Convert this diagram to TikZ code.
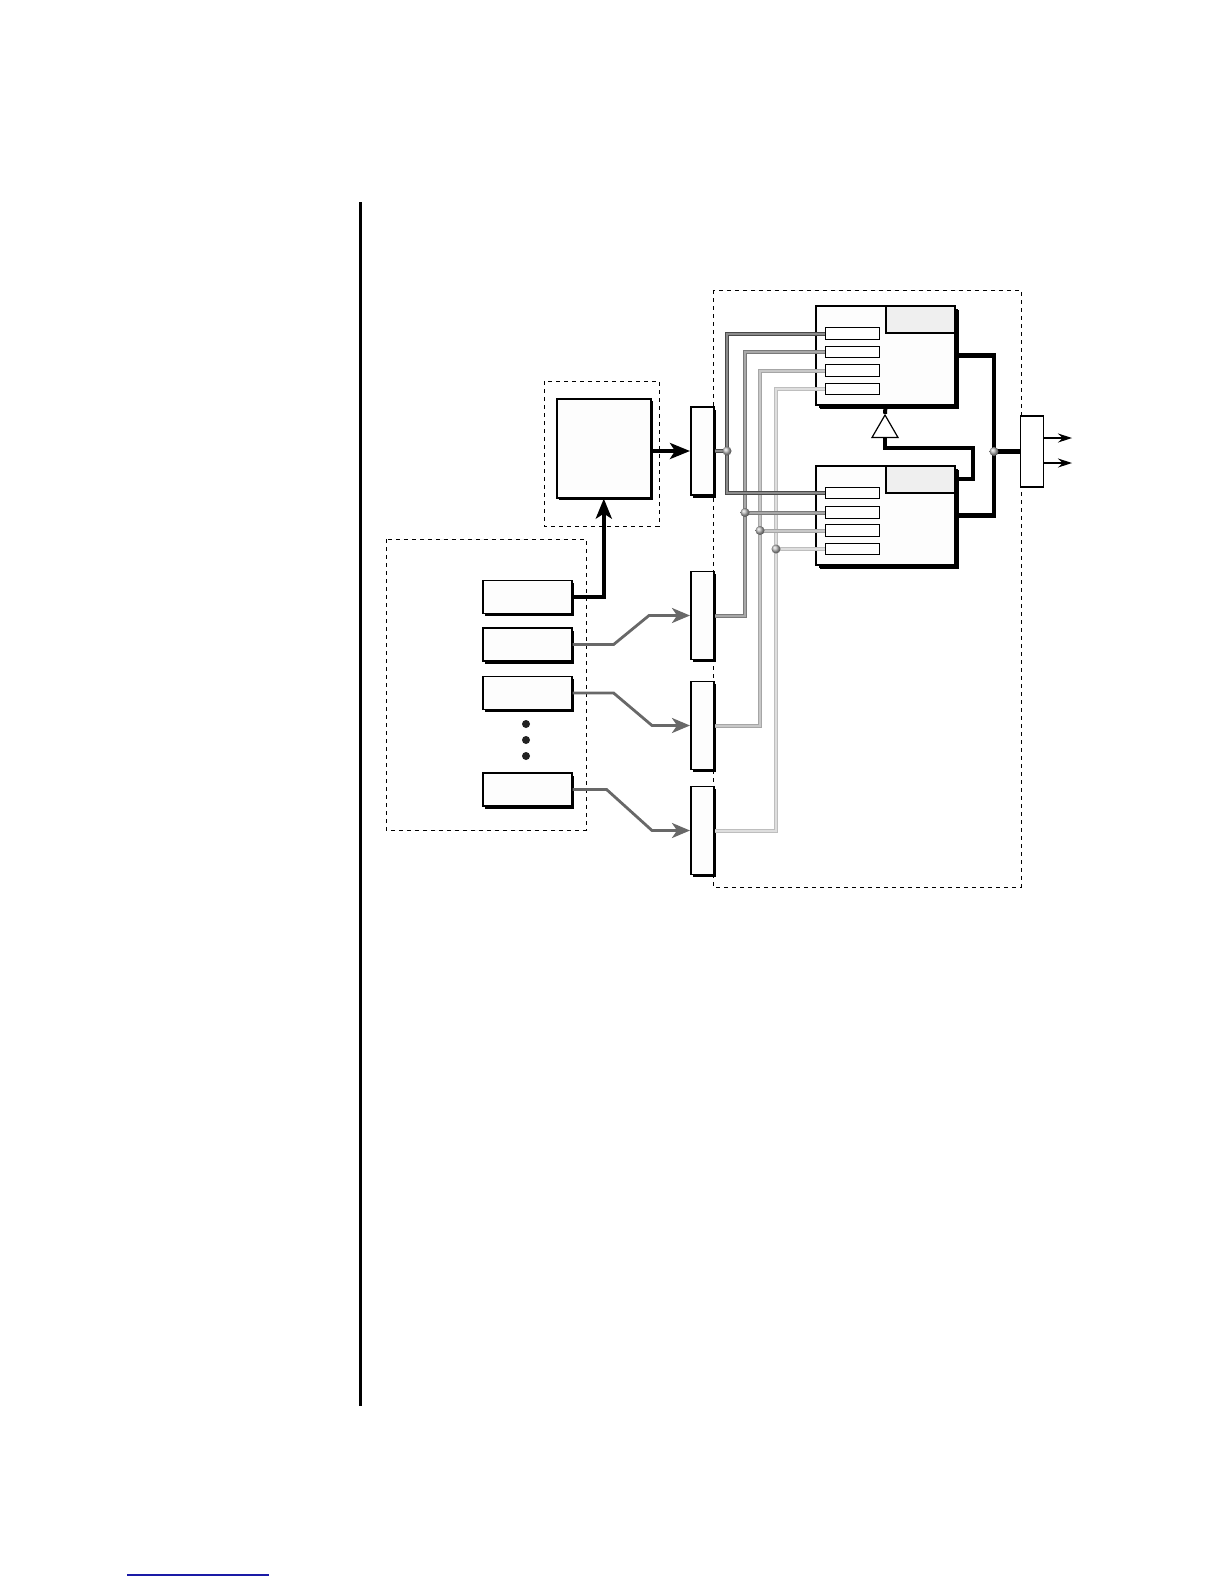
\documentclass[tikz,border=0pt]{standalone}
\usepackage{tikz}
\usetikzlibrary{arrows.meta,positioning,shapes.geometric,shadows}
\definecolor{sigInk}{HTML}{000000}
\definecolor{sigFeed}{HTML}{686868}
\definecolor{sigHead}{HTML}{EFEFEF}
\definecolor{sigPaper}{HTML}{FDFDFD}
\definecolor{sigDot}{HTML}{222222}
\definecolor{sigLink}{HTML}{1A1AA6}
\definecolor{sigWireA}{HTML}{4A4A4A}
\definecolor{sigCoreA}{HTML}{8C8C8C}
\definecolor{sigWireB}{HTML}{7A7A7A}
\definecolor{sigCoreB}{HTML}{A8A8A8}
\definecolor{sigWireC}{HTML}{A6A6A6}
\definecolor{sigCoreC}{HTML}{C8C8C8}
\definecolor{sigWireD}{HTML}{BEBEBE}
\definecolor{sigCoreD}{HTML}{DEDEDE}
\tikzset{
  sig group/.style={draw=sigInk, line width=0.5bp, dash pattern=on 2bp off 2bp},
  sig block/.style={draw=sigInk, line width=0.8bp, fill=sigPaper, inner sep=0pt,
    general shadow={fill=sigInk, shadow xshift=1.3bp, shadow yshift=-1.3bp}},
  sig src/.style={sig block, anchor=west, minimum width=44.5bp, minimum height=16.5bp},
  sig bar/.style={sig block, anchor=west, minimum width=11.5bp, minimum height=44bp},
  sig unit/.style={sig block, anchor=north west, line width=1bp, minimum width=69.5bp,
    minimum height=49.5bp, general shadow={fill=sigInk, shadow xshift=2bp, shadow yshift=-2bp}},
  sig head/.style={draw=sigInk, line width=0.8bp, fill=sigHead, inner sep=0pt,
    anchor=north east, minimum width=34.5bp, minimum height=13.5bp},
  sig port/.style={draw=sigInk, line width=0.6bp, fill=white, inner sep=0pt,
    anchor=west, minimum width=27bp, minimum height=5.75bp},
  sig amp/.style={regular polygon, regular polygon sides=3, draw=sigInk, line width=0.6bp,
    fill=white, minimum size=15bp, inner sep=0pt},
  sig out/.style={draw=sigInk, line width=0.7bp, fill=white, inner sep=0pt, anchor=west,
    minimum width=11.5bp, minimum height=35.5bp},
  sig joint/.style={circle, inner sep=0pt, minimum size=4.5bp, ball color=gray!55},
  sig wire/.style={line width=0.5bp, double distance=1bp},
  sig bus/.style={draw=sigInk, line width=2.2bp},
  sig main/.style={-{Stealth[length=10bp,width=8bp,inset=2.5bp]}, draw=sigInk,
    line width=2bp, line cap=butt},
  sig feed/.style={-{Stealth[length=9bp,width=7.5bp,inset=2.5bp]}, draw=sigFeed,
    line width=1.4bp, line cap=butt},
  sig arrow/.style={-{Stealth[length=7bp,width=4.5bp]}, draw=sigInk, line width=0.6bp},
  sig rule/.style={draw=sigInk, line width=1.5bp},
  sig link/.style={draw=sigLink, line width=0.7bp}
}

\begin{document}
\begin{tikzpicture}[x=0.5bp,y=-0.5bp]
  \useasboundingbox (0,0) rectangle (1224,1584);
  \draw[sig rule] (360,202) -- (360,1406);
  \draw[sig link] (127,1575) -- (269,1575);

  % dashed groups
  \draw[sig group] (386,539) rectangle (586,830);
  \draw[sig group] (544,381) rectangle (659,526);
  \draw[sig group] (713,290) rectangle (1021,887);

  % sources and core
  \foreach \i/\y in {1/597,2/644.5,3/693,4/789.5}
    \node[sig src] (src\i) at (482,\y) {};
  \foreach \y in {724,740,756}
    \fill[sigDot] (526,\y) circle (2bp);
  \node[sig block, anchor=north west, minimum width=47bp, minimum height=49.5bp] (core) at (556,398) {};

  % input bars
  \foreach \i/\y in {1/451,2/615.5,3/725.5,4/830.5}
    \node[sig bar] (bar\i) at (690,\y) {};

  % units
  \node[sig unit] (unitA) at (815,305) {};
  \node[sig head] (headA) at (unitA.north east) {};
  \foreach \i/\y in {1/333.5,2/352,3/370.5,4/389}
    \node[sig port] (inA\i) at (825,\y) {};
  \node[sig unit] (unitB) at (815,465) {};
  \node[sig head] (headB) at (unitB.north east) {};
  \foreach \i/\y in {1/493,2/512.5,3/530.5,4/549}
    \node[sig port] (inB\i) at (825,\y) {};
  \node[sig amp] (amp) at (885,430) {};
  \node[sig out] (outBar) at (1020,451.5) {};

  \coordinate (jn1) at (727,451);
  \coordinate (jn2) at (745,512.5);
  \coordinate (jn3) at (760,530.5);
  \coordinate (jn4) at (776,549);
  \coordinate (jnO) at (994,451.5);
  \coordinate (fbC) at (973,448);
  \coordinate (outL) at (1072,438);
  \coordinate (outR) at (1072,463);

  % wires
  \draw[sig wire, draw=sigWireD, double=sigCoreD] (inA4.west) -| (jn4) |- (bar4.east);
  \draw[sig wire, draw=sigWireD, double=sigCoreD] (jn4) -- (inB4.west);
  \draw[sig wire, draw=sigWireC, double=sigCoreC] (inA3.west) -| (jn3) |- (bar3.east);
  \draw[sig wire, draw=sigWireC, double=sigCoreC] (jn3) -- (inB3.west);
  \draw[sig wire, draw=sigWireB, double=sigCoreB] (inA2.west) -| (jn2) |- (bar2.east);
  \draw[sig wire, draw=sigWireB, double=sigCoreB] (jn2) -- (inB2.west);
  \draw[sig wire, draw=sigWireA, double=sigCoreA] (inA1.west) -| (jn1) |- (inB1.west);
  \draw[sig wire, draw=sigWireA, double=sigCoreA] (bar1.east) -- (jn1);

  % outputs and feedback
  \draw[sig bus] (unitA.east) -| (jnO) |- (unitB.east);
  \draw[sig bus] (jnO) -- (outBar.west);
  \draw[sig bus, line width=2bp] (unitA.south) -- (amp.north);
  \draw[sig bus, line width=2bp] (amp.south) |- (fbC) |- (headB.east);
  \foreach \j in {1,2,3,4,O}
    \node[sig joint] (ball\j) at (jn\j) {};
  \draw[sig arrow] (outBar.east |- outL) -- (outL);
  \draw[sig arrow] (outBar.east |- outR) -- (outR);

  % signal paths
  \draw[sig main] (core.east |- bar1.west) -- (bar1.west);
  \draw[sig main] (src1.east) -| (core.south);
  \draw[sig feed] (src2.east) -- ++(41,0) -- ([xshift=-20.5bp]bar2.west) -- (bar2.west);
  \draw[sig feed] (src3.east) -- ++(41,0) -- ([xshift=-19bp]bar3.west) -- (bar3.west);
  \draw[sig feed] (src4.east) -- ++(34,0) -- ([xshift=-19bp]bar4.west) -- (bar4.west);
\end{tikzpicture}
\end{document}
